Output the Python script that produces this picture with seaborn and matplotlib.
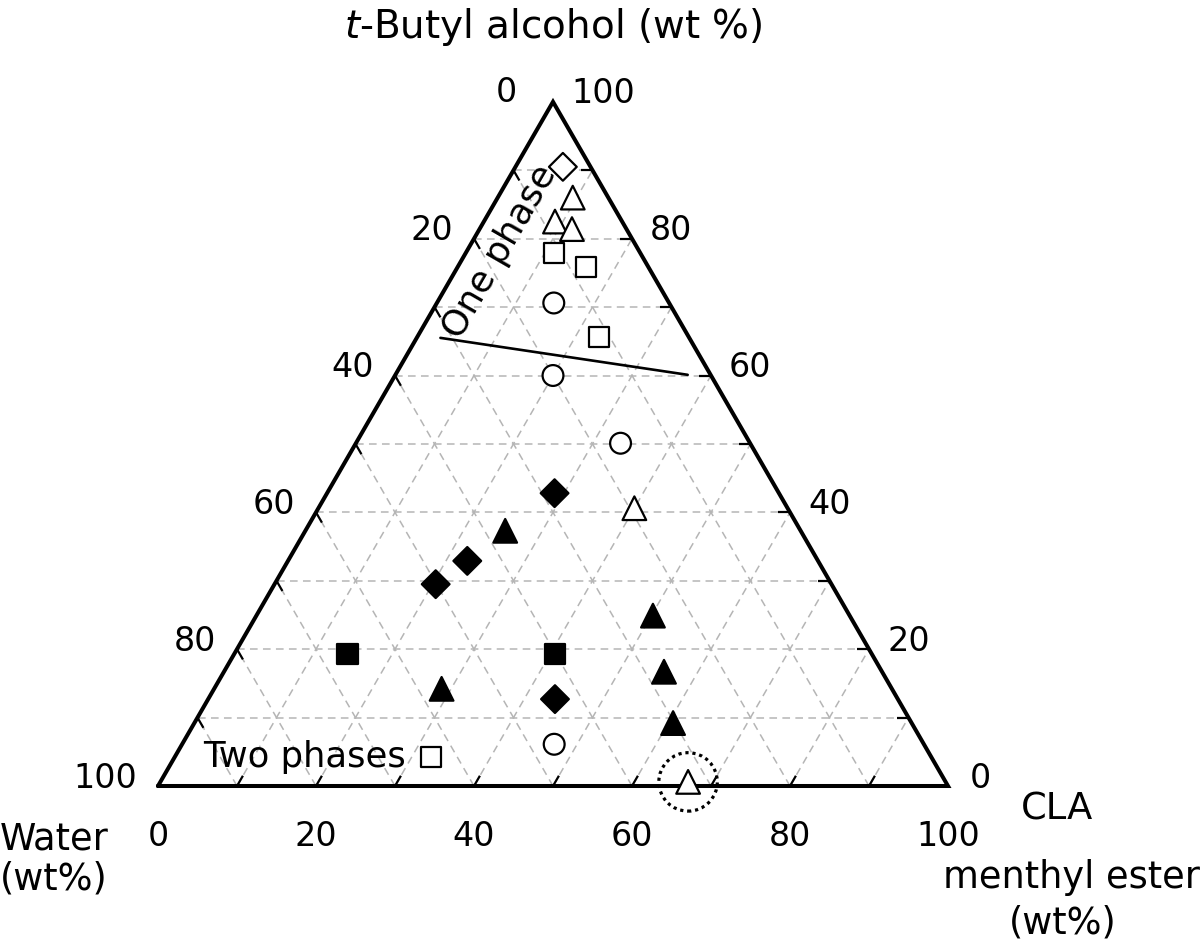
import numpy as np
import pandas as pd
import matplotlib
matplotlib.use("Agg")
import matplotlib.pyplot as plt
import seaborn as sns
from matplotlib.patches import Circle

# compositions in wt%: CLA menthyl ester and t-butyl alcohol (water = rest)
open_circle_cla = [14.8, 20.0, 33.5, 47.1]
open_circle_tba = [70.6, 60.0, 50.1, 6.1]
open_square_cla = [11.2, 16.2, 23.0, 32.5]
open_square_tba = [77.9, 75.9, 65.6, 4.2]
open_triangle_cla = [9.5, 9.0, 11.7, 40.0, 66.8]
open_triangle_tba = [86.0, 82.5, 81.4, 40.6, 0.6]
open_diamond_cla = [6.0]
open_diamond_tba = [90.5]
filled_diamond_cla = [28.8, 22.7, 20.4, 43.9]
filled_diamond_tba = [42.8, 32.9, 29.5, 12.7]
filled_triangle_cla = [25.3, 28.8, 50.2, 55.7, 60.6]
filled_triangle_tba = [37.3, 14.2, 24.9, 16.7, 9.2]
filled_square_cla = [14.3, 40.6]
filled_square_tba = [19.3, 19.3]

# phase boundary (one phase / two phases)
boundary_cla = [3.0, 37.0]
boundary_tba = [65.5, 60.1]

tick_values = [0, 20, 40, 60, 80, 100]
grid_values = [10, 20, 30, 40, 50, 60, 70, 80, 90]

H = np.sqrt(3) / 2


def tern(cla, tba):
    cla = np.asarray(cla, dtype=float) / 100
    tba = np.asarray(tba, dtype=float) / 100
    return cla + tba / 2, tba * H


def px(x, y):
    # pixel position of the reference -> data coordinates (side = 1)
    return (x - 158) / 790, (786 - y) / 790


groups = {
    "open_circle": (open_circle_cla, open_circle_tba),
    "open_square": (open_square_cla, open_square_tba),
    "open_triangle": (open_triangle_cla, open_triangle_tba),
    "open_diamond": (open_diamond_cla, open_diamond_tba),
    "filled_diamond": (filled_diamond_cla, filled_diamond_tba),
    "filled_triangle": (filled_triangle_cla, filled_triangle_tba),
    "filled_square": (filled_square_cla, filled_square_tba),
}
rows = []
for name, (c, t) in groups.items():
    for ci, ti in zip(c, t):
        rows.append({"series": name, "CLA": ci, "TBA": ti})
df = pd.DataFrame(rows)
df["x"], df["y"] = tern(df["CLA"], df["TBA"])

face = {k: ("white" if k.startswith("open") else "black") for k in groups}
markers = {"open_circle": "o", "open_square": "s", "open_triangle": "^",
           "open_diamond": "D", "filled_diamond": "D",
           "filled_triangle": "^", "filled_square": "s"}
sizes = {"open_circle": 225, "open_square": 210, "open_triangle": 290,
         "open_diamond": 200, "filled_diamond": 200,
         "filled_triangle": 290, "filled_square": 220}

sns.set_style("white")
plt.rcParams["font.family"] = ["DejaVu Sans"]
plt.rcParams["text.color"] = "black"

fig = plt.figure(figsize=(12, 9.42), dpi=100)
ax = fig.add_axes([0, 0, 1, 1])
x0, y0 = px(0, 942)
x1, y1 = px(1200, 0)
ax.set_xlim(x0, x1)
ax.set_ylim(y0, y1)
ax.axis("off")

# dashed grid
gkw = dict(color="#b5b5b5", lw=1.1, ls=(0, (5, 3.5)), zorder=1)
for g in grid_values:
    ax.plot(*tern([0, 100 - g], [g, g]), **gkw)          # t-BuOH const
    ax.plot(*tern([g, g], [0, 100 - g]), **gkw)          # CLA const
    ax.plot(*tern([100 - g, 0], [0, 100 - g]), **gkw)    # water const

# ticks pointing inward
L = 0.015
tkw = dict(color="black", lw=1.6, zorder=3, solid_capstyle="butt")
for g in grid_values:
    bx, by = tern(g, 0)
    ax.plot([bx, bx + L * 0.5], [by, by + L * H], **tkw)
    rx, ry = tern(100 - g, g)
    ax.plot([rx, rx - L], [ry, ry], **tkw)
    lx, ly = tern(0, 100 - g)
    ax.plot([lx, lx + L * 0.5], [ly, ly - L * H], **tkw)

# triangle frame
fx, fy = tern([0, 100, 0, 0], [0, 0, 100, 0])
ax.plot(fx, fy, color="black", lw=2.9, solid_joinstyle="miter", zorder=4)

# phase boundary
ax.plot(*tern(boundary_cla, boundary_tba), color="black", lw=1.9, zorder=3)

sns.scatterplot(data=df, x="x", y="y", hue="series", style="series",
                size="series", palette=face, markers=markers, sizes=sizes,
                edgecolor="black", linewidth=1.6, legend=False, ax=ax,
                zorder=5, clip_on=False)

# dotted circle around the binary point
cx, cy = tern(open_triangle_cla[-1], open_triangle_tba[-1])
ax.add_patch(Circle((cx, cy), 0.037, fill=False, ls=(0, (1, 1.2)), lw=2.3,
                    color="black", zorder=6, clip_on=False))

fs = 24
for v in tick_values:
    # water (left side), 0 sits at the apex
    ax.annotate(str(v), xy=tern(0, 100 - v),
                xytext=(-36, 9) if v == 0 else (-21, 8),
                textcoords="offset pixels", ha="right", va="center", fontsize=fs)
    # t-butyl alcohol (right side)
    ax.annotate(str(v), xy=tern(100 - v, v),
                xytext=(22, 8) if v == 0 else (18, 8),
                textcoords="offset pixels", ha="left", va="center", fontsize=fs)
    # CLA menthyl ester (bottom)
    ax.annotate(str(v), xy=tern(v, 0), xytext=(0, -50),
                textcoords="offset pixels", ha="center", va="center", fontsize=fs)

lab = 26.5
ax.text(*px(553, 38), r"$\it{t}$-Butyl alcohol (wt %)", ha="center",
        va="baseline", fontsize=28)
ax.text(*px(0, 849), "Water", ha="left", va="baseline", fontsize=lab)
ax.text(*px(0, 890), "(wt%)", ha="left", va="baseline", fontsize=lab)
ax.text(*px(1057, 819), "CLA", ha="center", va="baseline", fontsize=lab)
ax.text(*px(1200, 888), "menthyl ester", ha="right", va="baseline", fontsize=lab)
ax.text(*px(1063, 933), "(wt%)", ha="center", va="baseline", fontsize=lab)

ax.text(*px(500, 252), "One phase", ha="center", va="center", rotation=60,
        rotation_mode="anchor", fontsize=26)
ax.text(*px(203, 767), "Two phases", ha="left", va="baseline", fontsize=25.5)

fig.savefig("out.png", dpi=100, facecolor="white")
